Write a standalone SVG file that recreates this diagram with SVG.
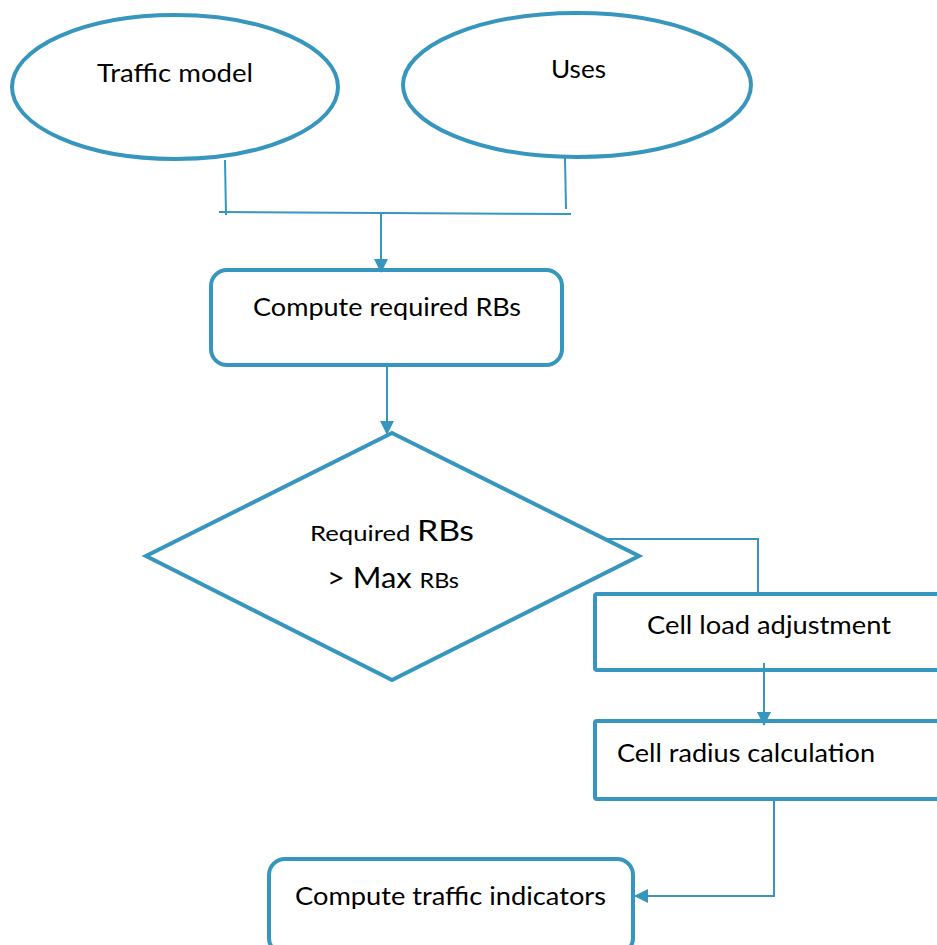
<svg xmlns="http://www.w3.org/2000/svg" width="937" height="945" viewBox="0 0 937 945">
  <style>
    .shape { fill: #ffffff; stroke: #3796be; stroke-width: 4; }
    .conn { fill: none; stroke: #3796be; stroke-width: 2; }
    .lbl { font-family: Lato, "Liberation Sans", sans-serif; fill: #000000; font-size: 25px; }
  </style>
  <defs>
    <marker id="arrow" markerUnits="userSpaceOnUse" markerWidth="14" markerHeight="14" viewBox="0 0 14 14" refX="13" refY="7" orient="auto">
      <path d="M0,0 L14,7 L0,14 Z" fill="#3796be"/>
    </marker>
  </defs>
  <rect width="937" height="945" fill="#ffffff"/>

  <g id="traffic-model">
    <ellipse class="shape" cx="175" cy="87" rx="163" ry="72"/>
    <text class="lbl" x="97" y="82" textLength="156" lengthAdjust="spacingAndGlyphs">Traffic model</text>
  </g>
  <g id="uses">
    <ellipse class="shape" cx="577" cy="85" rx="174" ry="72"/>
    <text class="lbl" x="551" y="78" textLength="55" lengthAdjust="spacingAndGlyphs">Uses</text>
  </g>
  <g id="compute-rbs">
    <rect class="shape" x="211" y="270" width="351" height="95" rx="16"/>
    <text class="lbl" x="253" y="316" textLength="268" lengthAdjust="spacingAndGlyphs">Compute required RBs</text>
  </g>
  <g id="decision">
    <polygon class="shape" points="392,433 639,556 392,680 146,556"/>
    <text class="lbl" x="310" y="541" textLength="164" lengthAdjust="spacingAndGlyphs"><tspan font-size="22">Required </tspan><tspan font-size="29">RBs</tspan></text>
    <text class="lbl" x="327" y="588" textLength="132" lengthAdjust="spacingAndGlyphs"><tspan font-size="29">&gt; Max </tspan><tspan font-size="22">RBs</tspan></text>
  </g>
  <g id="cell-load">
    <rect class="shape" x="595" y="594" width="360" height="76" rx="2"/>
    <text class="lbl" x="647" y="634" textLength="244" lengthAdjust="spacingAndGlyphs">Cell load adjustment</text>
  </g>
  <g id="cell-radius">
    <rect class="shape" x="595" y="721" width="360" height="78" rx="2"/>
    <text class="lbl" x="617" y="762" textLength="258" lengthAdjust="spacingAndGlyphs">Cell radius calculation</text>
  </g>
  <g id="traffic-indicators">
    <rect class="shape" x="269" y="859" width="364" height="95" rx="16"/>
    <text class="lbl" x="295" y="905" textLength="311" lengthAdjust="spacingAndGlyphs">Compute traffic indicators</text>
  </g>

  <g id="connectors">
    <path class="conn" d="M225,160 L226,215"/>
    <path class="conn" d="M565,157 L566,209"/>
    <path class="conn" d="M219,212 L571,214"/>
    <path class="conn" d="M381,212 L381,272" marker-end="url(#arrow)"/>
    <path class="conn" d="M387,367 L387,434" marker-end="url(#arrow)"/>
    <path class="conn" d="M607,539 L758,539 L758,593"/>
    <path class="conn" d="M764,663 L764,725" marker-end="url(#arrow)"/>
    <path class="conn" d="M774,800 L774,896 L635,896" marker-end="url(#arrow)"/>
  </g>
</svg>
